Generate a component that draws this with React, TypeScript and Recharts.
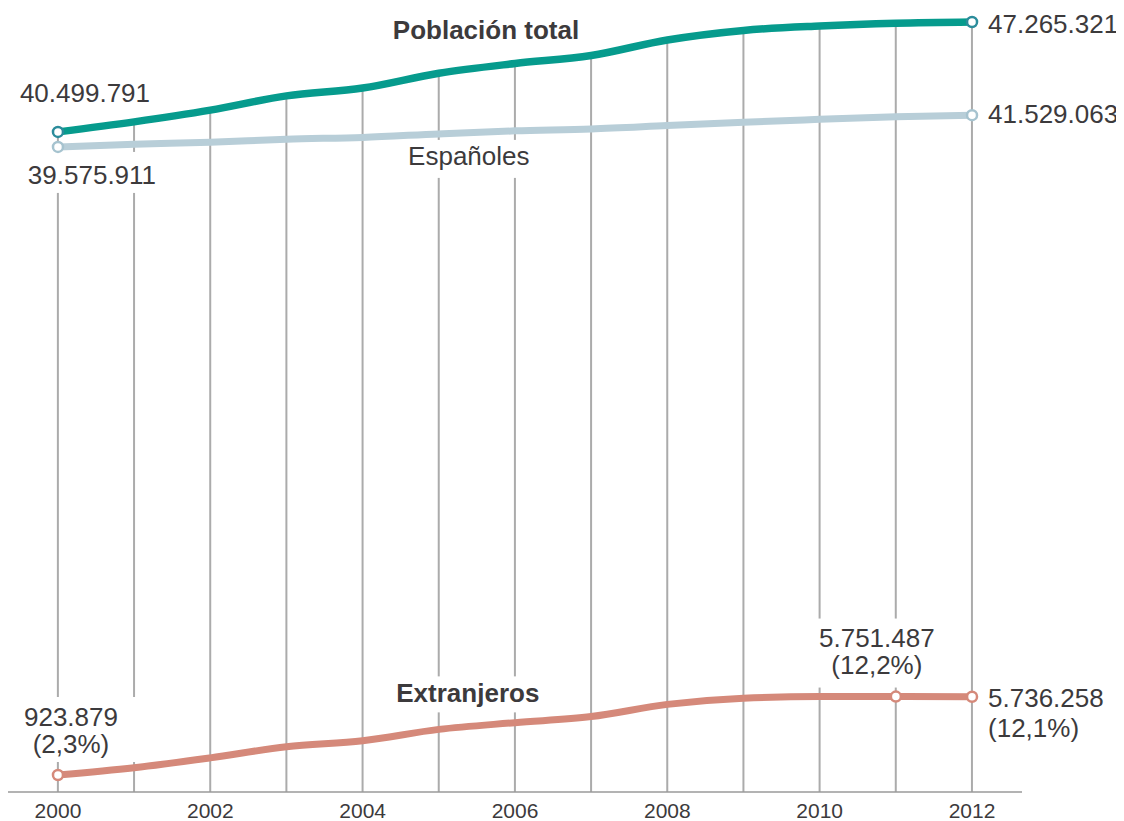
import { Bar, ComposedChart, Line, ReferenceDot, XAxis, YAxis } from "recharts";

const YEARS = [2000, 2001, 2002, 2003, 2004, 2005, 2006, 2007, 2008, 2009, 2010, 2011, 2012];
const TOTAL = [
  40499791, 41116842, 41837894, 42717064, 43197684, 44108530, 44708964, 45200737, 46157822, 46745807,
  47021031, 47190493, 47265321,
];
const ESPANOLES = [
  39575911, 39746185, 39859948, 40052896, 40163358, 40377920, 40564798, 40681183, 40889060, 41097136,
  41273297, 41439006, 41529063,
];
const EXTRANJEROS = [
  923879, 1370657, 1977946, 2664168, 3034326, 3730610, 4144166, 4519554, 5268762, 5648671, 5747734,
  5751487, 5736258,
];
const TICKS = [2000, 2002, 2004, 2006, 2008, 2010, 2012];

const TOTAL_DOTS = [0, 12];
const ESP_DOTS = [0, 12];
const EXT_DOTS = [0, 11, 12];

const X_DOMAIN = [1999.344, 2012.656];
const Y_MIN = -123000;
const Y_MAX = 48126000;

const COLORS = {
  total: "#069b8d",
  totalDot: "#2b8c9b",
  esp: "#b8ced8",
  espDot: "#a6c3cf",
  ext: "#d5897a",
  grid: "#ababab",
  text: "#3c3a3c",
};

const FONT = "'Liberation Sans', Arial, sans-serif";

const data = YEARS.map((year, i) => ({
  year,
  total: TOTAL[i],
  espanoles: ESPANOLES[i],
  extranjeros: EXTRANJEROS[i],
}));

type Box = { x: number; y: number; w: number; h: number };
type TextLine = { text: string; dx: number; dy: number; anchor?: "start" | "middle" | "end"; bold?: boolean };

function labelShape(lines: TextLine[], box?: Box) {
  return (props: any) => {
    const { cx, cy } = props;
    return (
      <g>
        {box && <rect x={cx + box.x} y={cy + box.y} width={box.w} height={box.h} fill="#fff" />}
        {lines.map((l, i) => (
          <text
            key={i}
            x={cx + l.dx}
            y={cy + l.dy}
            textAnchor={l.anchor ?? "middle"}
            fontFamily={FONT}
            fontSize={26}
            fontWeight={l.bold ? 700 : 400}
            fill={COLORS.text}
          >
            {l.text}
          </text>
        ))}
      </g>
    );
  };
}

function dotRenderer(indices: number[], stroke: string) {
  return (props: any) => {
    const { cx, cy, index } = props;
    if (!indices.includes(index)) return <g key={`d${index}`} />;
    return <circle key={`d${index}`} cx={cx} cy={cy} r={5} fill="#fff" stroke={stroke} strokeWidth={2.5} />;
  };
}

export default function App() {
  return (
    <div style={{ width: 1116, height: 813, overflow: "visible" }}>
      <style>{`html,body{overflow:hidden}`}</style>
      <ComposedChart
        width={1116}
        height={813}
        data={data}
        margin={{ top: 0, right: 102, bottom: 0, left: 0 }}
        style={{ overflow: "visible" }}
      >
        <XAxis
          dataKey="year"
          type="number"
          domain={X_DOMAIN}
          ticks={TICKS}
          allowDataOverflow
          height={29}
          tickLine={false}
          tickSize={0}
          tickMargin={11}
          axisLine={{ stroke: "#9a9a9a", strokeWidth: 1.5 }}
          tick={{ fontSize: 21, fill: COLORS.text, fontFamily: FONT }}
        />
        <YAxis hide domain={[Y_MIN, Y_MAX]} allowDataOverflow />
        <Bar
          dataKey={(d: any) => [Y_MIN, d.total]}
          barSize={2}
          fill={COLORS.grid}
          isAnimationActive={false}
        />
        <ReferenceDot
          x={YEARS[0]}
          y={ESPANOLES[0]}
          r={0}
          shape={labelShape([{ text: "39.575.911", dx: 34, dy: 37 }], { x: -38, y: 5, w: 142, h: 41 })}
        />
        <ReferenceDot
          x={YEARS[0]}
          y={EXTRANJEROS[0]}
          r={0}
          shape={labelShape(
            [
              { text: "923.879", dx: 13, dy: -49 },
              { text: "(2,3%)", dx: 13, dy: -22 },
            ],
            { x: -40, y: -78, w: 124, h: 65 }
          )}
        />
        <ReferenceDot
          x={YEARS[11]}
          y={EXTRANJEROS[11]}
          r={0}
          shape={labelShape(
            [
              { text: "5.751.487", dx: -19, dy: -50 },
              { text: "(12,2%)", dx: -19, dy: -23 },
            ],
            { x: -82, y: -78, w: 124, h: 69 }
          )}
        />
        <ReferenceDot
          x={YEARS[5]}
          y={ESPANOLES[5]}
          r={0}
          shape={labelShape([{ text: "Españoles", dx: 30, dy: 31 }], { x: -37, y: 6, w: 134, h: 38 })}
        />
        <ReferenceDot
          x={YEARS[5]}
          y={EXTRANJEROS[5]}
          r={0}
          shape={labelShape([{ text: "Extranjeros", dx: 29, dy: -27, bold: true }], { x: -47, y: -53, w: 154, h: 36 })}
        />
        <ReferenceDot
          x={YEARS[6]}
          y={TOTAL[6]}
          r={0}
          shape={labelShape([{ text: "Población total", dx: -29, dy: -25, bold: true }])}
        />
        <ReferenceDot
          x={YEARS[0]}
          y={TOTAL[0]}
          r={0}
          shape={labelShape([{ text: "40.499.791", dx: 27, dy: -30 }])}
        />
        <ReferenceDot
          x={YEARS[12]}
          y={TOTAL[12]}
          r={0}
          shape={labelShape([{ text: "47.265.321", dx: 16, dy: 11, anchor: "start" }])}
        />
        <ReferenceDot
          x={YEARS[12]}
          y={ESPANOLES[12]}
          r={0}
          shape={labelShape([{ text: "41.529.063", dx: 16, dy: 8, anchor: "start" }])}
        />
        <ReferenceDot
          x={YEARS[12]}
          y={EXTRANJEROS[12]}
          r={0}
          shape={labelShape(
            [
              { text: "5.736.258", dx: 16, dy: 10, anchor: "start" },
              { text: "(12,1%)", dx: 16, dy: 40, anchor: "start" },
            ]
          )}
        />
        <Line
          type="monotone"
          dataKey="espanoles"
          stroke={COLORS.esp}
          strokeWidth={7}
          dot={dotRenderer(ESP_DOTS, COLORS.espDot)}
          activeDot={false}
          isAnimationActive={false}
        />
        <Line
          type="monotone"
          dataKey="total"
          stroke={COLORS.total}
          strokeWidth={7.5}
          dot={dotRenderer(TOTAL_DOTS, COLORS.totalDot)}
          activeDot={false}
          isAnimationActive={false}
        />
        <Line
          type="monotone"
          dataKey="extranjeros"
          stroke={COLORS.ext}
          strokeWidth={7}
          dot={dotRenderer(EXT_DOTS, COLORS.ext)}
          activeDot={false}
          isAnimationActive={false}
        />
      </ComposedChart>
    </div>
  );
}
